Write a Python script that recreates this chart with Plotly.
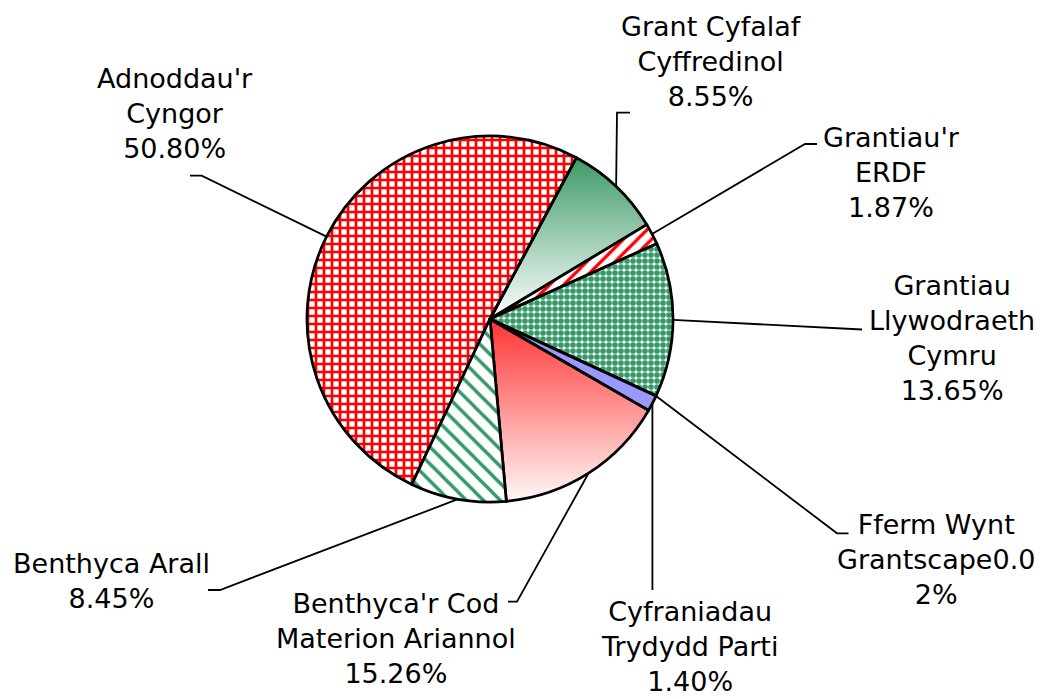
import math
import plotly.graph_objects as go

# ---------------- data ----------------
categories = [
    "Adnoddau'r Cyngor",
    "Grant Cyfalaf Cyffredinol",
    "Grantiau'r ERDF",
    "Grantiau Llywodraeth Cymru",
    "Fferm Wynt Grantscape",
    "Cyfraniadau Trydydd Parti",
    "Benthyca'r Cod Materion Ariannol",
    "Benthyca Arall",
]
shares = [50.80, 8.55, 1.87, 13.65, 0.02, 1.40, 15.26, 8.45]
label_lines = [
    ["Adnoddau'r", "Cyngor", "50.80%"],
    ["Grant Cyfalaf", "Cyffredinol", "8.55%"],
    ["Grantiau'r", "ERDF", "1.87%"],
    ["Grantiau", "Llywodraeth", "Cymru", "13.65%"],
    ["Fferm Wynt", "Grantscape0.0", "2%"],
    ["Cyfraniadau", "Trydydd Parti", "1.40%"],
    ["Benthyca'r Cod", "Materion Ariannol", "15.26%"],
    ["Benthyca Arall", "8.45%"],
]

# ---------------- layout / style ----------------
W, H = 1052, 699
CX, CY, R = 490.0, 319.0, 183.0      # pie centre and radius in pixels
ROT = 205.3                           # start angle of first slice (deg clockwise from 12 o'clock)

slice_colors = ["white", "rgba(0,0,0,0)", "white", "white", "#9999FF", "#9999FF",
                "rgba(0,0,0,0)", "white"]
pat_shapes = ["+", "", "/", ".", "", "", "", "\\"]
pat_fg = ["#FF0000", "#339966", "#FF0000", "#339966", "#9999FF", "#9999FF", "#FF0000", "#339966"]
pat_bg = ["white", "rgba(0,0,0,0)", "white", "white", "#9999FF", "#9999FF", "rgba(0,0,0,0)", "white"]
pat_size = [8, 8, 10, 6, 8, 8, 8, 12]
pat_solid = [0.55, 0.3, 0.32, 0.7, 0.3, 0.3, 0.3, 0.28]
# vertical gradient fills (bottom colour, top colour)
gradients = {1: ("#ffffff", "#3d9a67"), 6: ("#fff8f8", "#ff3333")}

# label block centres (pixels) and leader-line bends (pixels)
label_pos = [(175, 113), (711, 61), (891, 172), (952, 338),
             (936, 559), (689, 646), (396, 638), (111, 581)]
leader_bends = [
    [(201.7, 175.7), (190, 175.7)],
    [(617, 112.7), (630, 112.7)],
    [(805, 144), (817, 144)],
    [(850, 329.5), (862, 329.5)],
    [(837, 533.3), (848.5, 533.3)],
    [(652.4, 590)],
    [(517, 601.7), (508, 601.7)],
    [(220, 590), (208, 590)],
]
FONT = dict(family="DejaVu Sans", size=27, color="black")


def px2d(xp, yp):
    return (xp - CX) / R, (CY - yp) / R


def polar(deg, r=1.0):
    a = math.radians(deg)
    return r * math.sin(a), r * math.cos(a)


total = sum(shares)
starts, ends = [], []
cum = 0.0
for v in shares:
    a0 = ROT + cum / total * 360.0
    a1 = a0 + v / total * 360.0
    starts.append(a0)
    ends.append(a1)
    cum += v

fig = go.Figure()

# gradient-filled slices drawn as polygons beneath the (transparent) pie slices
for i, (c_lo, c_hi) in gradients.items():
    n = 80
    xs, ys = [0.0], [0.0]
    for k in range(n + 1):
        x, y = polar(starts[i] + (ends[i] - starts[i]) * k / n)
        xs.append(x)
        ys.append(y)
    xs.append(0.0)
    ys.append(0.0)
    fig.add_trace(go.Scatter(
        x=xs, y=ys, mode="lines", fill="toself", line=dict(width=0),
        fillgradient=dict(type="vertical", colorscale=[[0, c_lo], [1, c_hi]]),
        hoverinfo="skip", showlegend=False))

# leader lines
for i in range(len(shares)):
    mid = (starts[i] + ends[i]) / 2.0
    ex, ey = polar(mid)
    xs, ys = [ex], [ey]
    for (bx, by) in leader_bends[i]:
        dx, dy = px2d(bx, by)
        xs.append(dx)
        ys.append(dy)
    fig.add_trace(go.Scatter(x=xs, y=ys, mode="lines",
                             line=dict(color="black", width=1.8),
                             hoverinfo="skip", showlegend=False))

# the pie itself
fig.add_trace(go.Pie(
    values=shares, labels=categories, sort=False, direction="clockwise",
    rotation=ROT, textinfo="none", hoverinfo="label+percent", showlegend=False,
    marker=dict(colors=slice_colors, line=dict(color="black", width=2.8),
                pattern=dict(shape=pat_shapes, fgcolor=pat_fg, bgcolor=pat_bg,
                             size=pat_size, solidity=pat_solid, fillmode="replace")),
    domain=dict(x=[(CX - R) / W, (CX + R) / W],
                y=[(H - CY - R) / H, (H - CY + R) / H]),
))

# labels
for i, lines in enumerate(label_lines):
    ax, ay = px2d(*label_pos[i])
    fig.add_annotation(x=ax, y=ay, xref="x", yref="y", text="<br>".join(lines),
                       showarrow=False, xanchor="center", yanchor="middle",
                       align="center", font=FONT)

fig.update_layout(
    width=W, height=H, margin=dict(l=0, r=0, t=0, b=0),
    paper_bgcolor="white", plot_bgcolor="white", showlegend=False,
    xaxis=dict(range=[(0 - CX) / R, (W - CX) / R], visible=False, fixedrange=True),
    yaxis=dict(range=[(CY - H) / R, CY / R], visible=False, fixedrange=True),
)

fig.write_html("out.html", config={"displayModeBar": False},
               post_script="document.body.style.margin='0';"
                           "document.body.style.overflow='hidden';")
